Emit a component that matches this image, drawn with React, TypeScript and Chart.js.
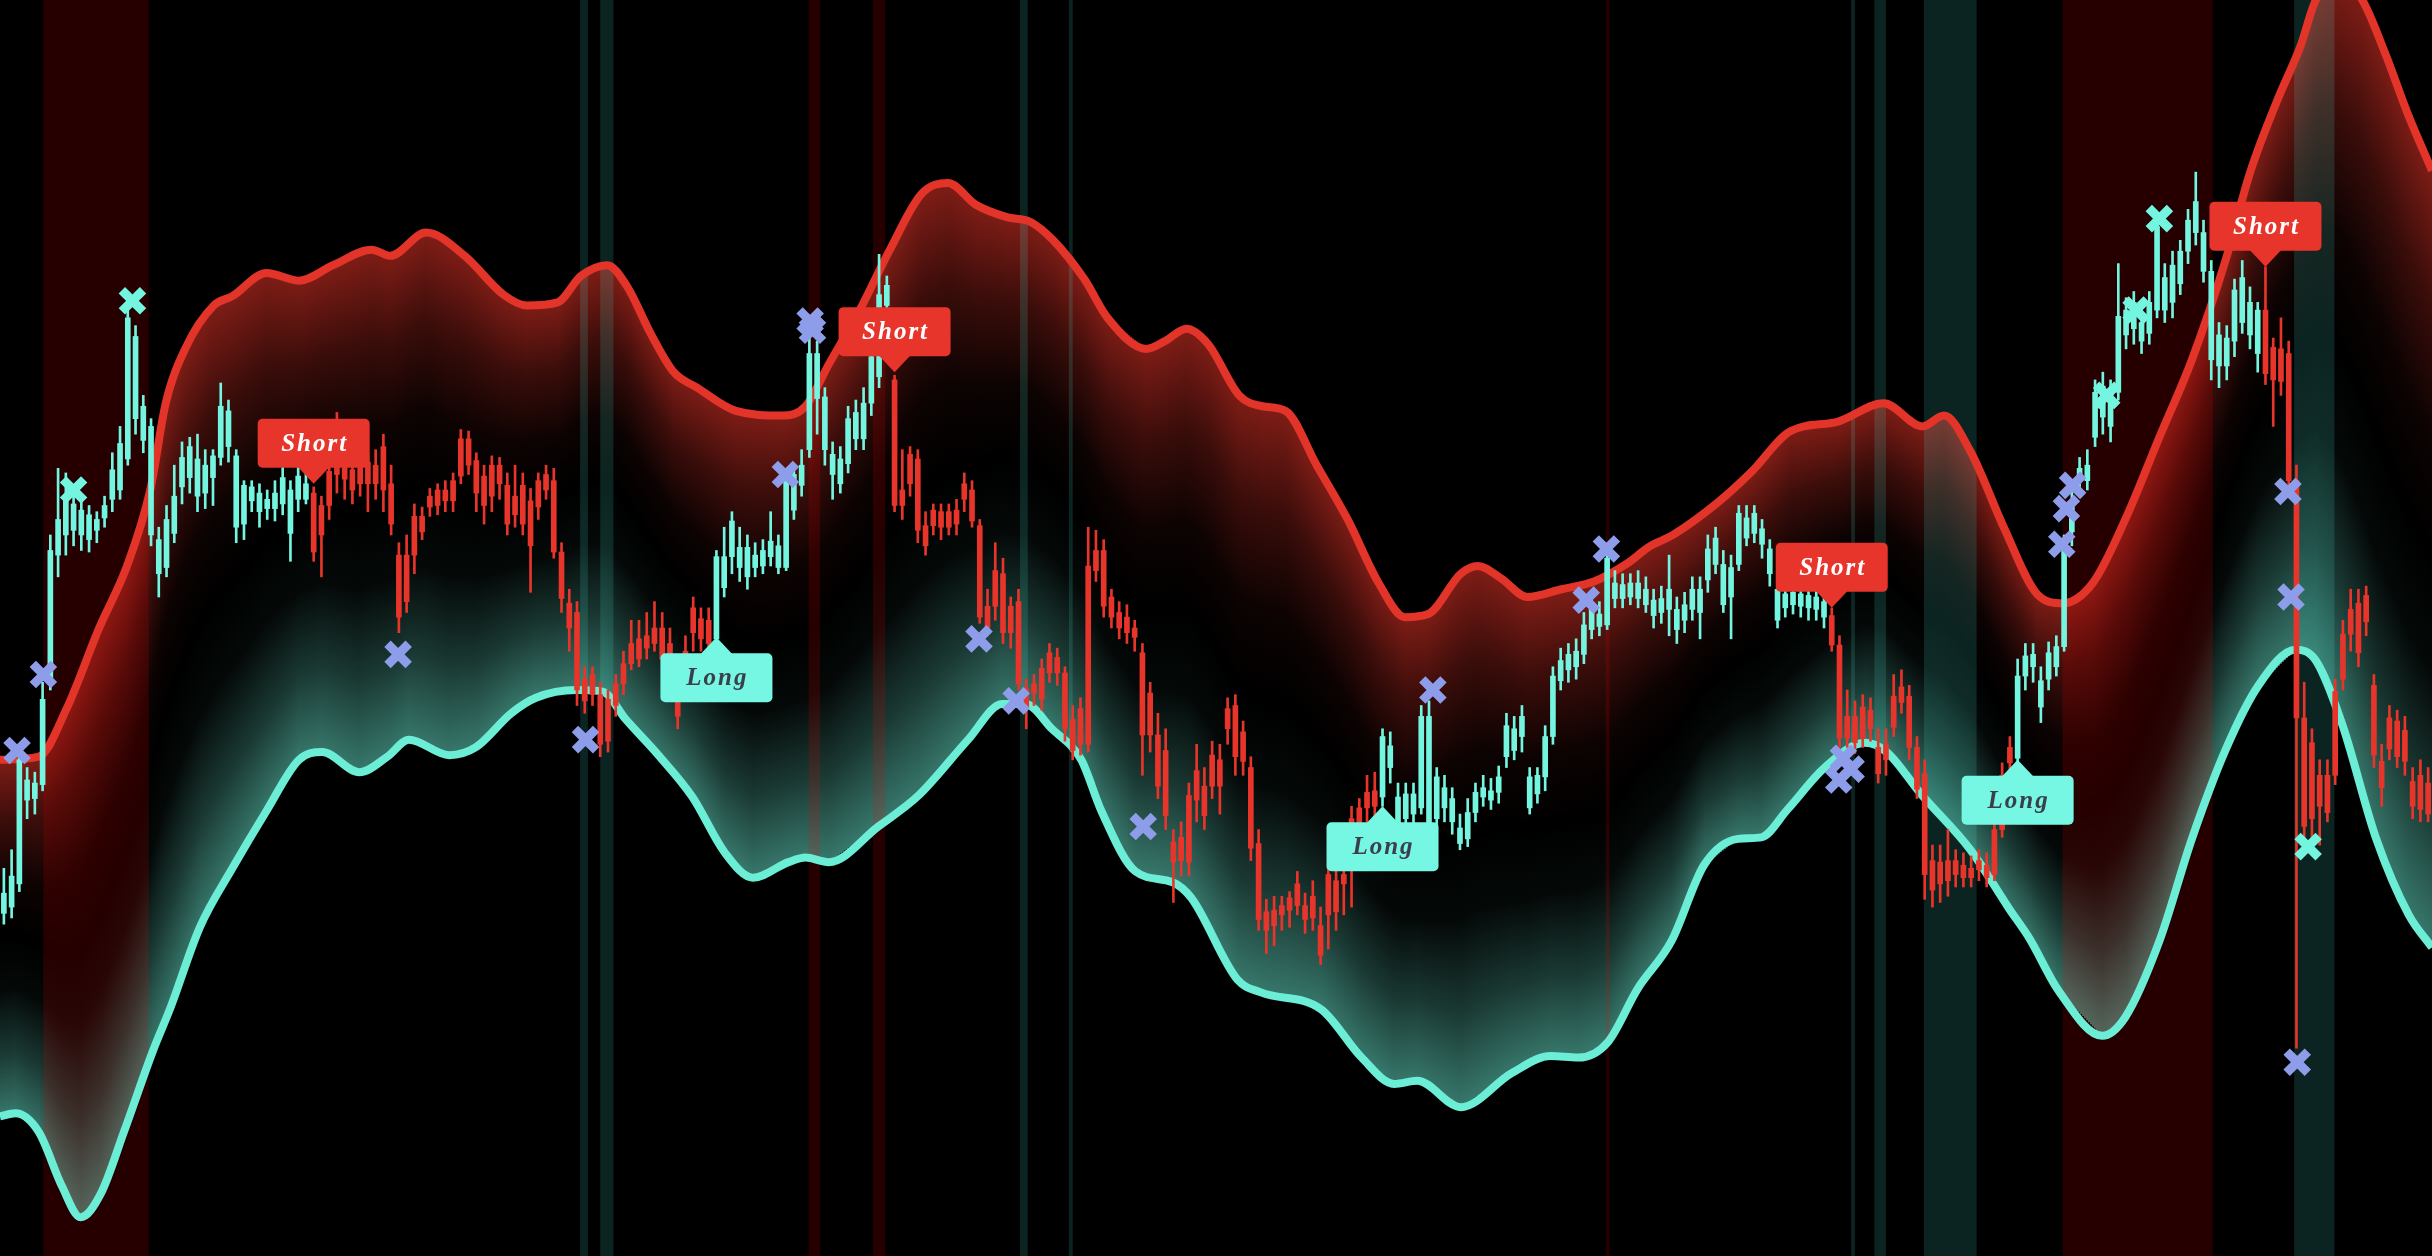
import { useEffect, useRef } from 'react';
import { Chart, registerables } from 'chart.js';

Chart.register(...registerables);

const W = 2432;
const H = 1256;

const RED = '#e8352b';
const TEAL = '#74f5e0';
const LAV = '#8e9de9';
const LINE_RED = '#e3342a';
const LINE_TEAL = '#6ceed6';

// ---- candle data (price units) ----
const opens = [
  234,245,320,307,305,359,455,475,491,485,
  481,478,475,484,507,524,605,593,548,535,
  462,475,490,515,522,514,510,516,548,545,
  516,497,496,492,488,492,502,494,503,498,
  492,484,506,534,514,507,511,512,510,522,
  498,452,452,477,477,490,494,494,500,527,
  527,513,503,510,510,497,490,497,487,500,
  504,500,454,421,415,372,375,362,359,369,
  382,395,398,400,405,405,395,370,390,418,
  411,410,451,451,474,457,457,452,455,461,
  458,500,504,510,582,582,554,517,514,540,
  544,550,580,620,626,565,494,517,514,471,
  481,480,480,481,498,494,471,419,442,440,
  419,422,366,369,379,389,386,376,346,353,
  445,455,455,425,415,412,405,389,363,336,
  326,267,270,297,313,303,323,320,353,355,
  338,315,266,222,223,226,231,240,226,232,
  213,246,242,246,282,289,299,300,335,329,
  296,298,298,348,348,309,302,295,276,286,
  299,302,300,309,342,340,348,309,310,335,
  374,384,388,390,407,417,414,450,434,433,
  434,434,430,423,424,430,417,420,430,430,
  456,463,446,444,479,476,479,469,456,430,
  427,428,427,426,425,422,413,394,348,348,
  354,352,328,330,361,367,361,328,311,255,
  254,255,255,252,250,255,252,275,310,328,
  374,387,388,371,389,393,458,483,508,510,
  557,561,558,606,610,615,602,615,664,631,
  639,648,668,680,660,635,594,592,623,631,
  615,610,610,586,585,582,500,347,331,310,
  310,364,401,417,421,426,368,319,347,345,
  339,306,310,305,
];
const closes = [
  221,225,240,294,295,304,373,452,465,468,
  465,462,468,476,488,494,514,540,526,465,
  440,444,466,496,502,490,492,502,515,522,
  470,472,487,480,482,482,485,466,488,488,
  454,465,484,504,501,494,498,498,498,494,
  472,412,422,452,467,483,484,487,487,503,
  510,492,484,490,498,472,478,472,458,483,
  494,454,424,405,365,358,362,330,332,355,
  369,382,385,392,395,385,370,348,365,402,
  398,395,398,431,451,444,438,444,445,451,
  444,444,481,497,520,553,520,504,498,511,
  527,527,550,567,613,484,484,498,468,458,
  471,470,470,472,488,474,412,405,419,402,
  402,369,353,363,359,376,376,340,326,330,
  330,442,419,412,405,402,399,336,336,303,
  284,254,255,254,294,284,303,303,340,322,
  319,263,217,210,213,220,223,226,217,218,
  194,220,222,240,256,273,289,290,296,315,
  279,282,285,289,279,282,289,280,266,269,
  286,296,294,299,322,326,335,289,298,309,
  335,371,378,380,388,404,406,407,424,424,
  425,424,420,413,415,417,404,410,417,415,
  436,446,420,425,446,463,466,459,440,410,
  418,420,419,418,417,412,394,334,334,331,
  334,340,311,320,341,357,328,301,246,236,
  240,242,246,244,244,249,244,246,275,318,
  321,374,380,354,372,380,393,467,500,500,
  528,541,535,557,594,598,590,595,610,610,
  615,627,648,660,635,578,574,574,590,602,
  594,582,569,565,564,500,347,277,282,290,
  286,310,372,401,389,409,323,302,327,322,
  319,290,288,285,
];
const highs = [
  250,262,328,315,312,370,465,508,505,492,
  488,484,480,490,518,535,612,600,555,540,
  470,484,510,525,528,530,520,520,563,552,
  520,500,500,498,494,500,510,500,510,505,
  496,490,515,544,525,514,520,518,520,530,
  510,460,465,485,483,495,498,500,505,533,
  532,518,510,516,515,505,510,505,495,505,
  510,508,460,430,422,380,380,370,365,375,
  390,410,410,415,422,415,405,378,400,425,
  418,418,455,470,480,470,465,460,462,480,
  465,505,510,520,595,590,560,525,522,548,
  552,560,588,646,632,568,520,522,520,480,
  485,485,485,488,505,500,475,430,460,450,
  425,430,372,375,385,395,392,380,355,360,
  470,468,462,430,422,420,410,395,370,350,
  340,275,280,305,330,315,332,330,360,362,
  345,322,275,230,232,232,235,248,234,242,
  225,252,250,252,290,295,310,312,340,338,
  305,305,305,355,358,315,310,302,285,295,
  305,310,308,316,350,348,355,315,315,342,
  380,392,395,398,415,425,422,455,442,440,
  440,442,438,430,432,452,425,428,438,438,
  465,470,455,452,484,484,484,475,462,438,
  432,434,432,432,430,428,418,400,365,358,
  362,360,340,340,375,378,368,335,320,265,
  265,275,262,260,258,262,260,282,318,335,
  385,395,395,380,396,400,465,500,515,520,
  565,570,565,640,618,622,610,622,670,640,
  648,655,675,699,668,642,602,600,630,642,
  625,615,638,592,605,590,510,370,340,320,
  320,372,410,430,430,432,375,330,355,352,
  348,315,320,315,
];
const lows = [
  214,218,235,282,285,300,365,438,452,458,
  455,454,460,470,480,488,510,530,518,458,
  425,438,460,485,492,480,482,484,510,512,
  460,462,480,470,475,474,478,448,480,485,
  448,438,475,492,488,485,490,480,488,480,
  465,402,415,440,462,477,478,480,480,498,
  504,480,472,480,488,465,470,465,428,475,
  488,450,415,390,355,350,355,322,325,348,
  362,378,380,385,390,378,360,340,358,390,
  390,385,398,425,440,435,430,438,440,445,
  440,442,475,490,515,530,510,488,492,505,
  520,520,542,560,595,480,475,490,460,452,
  465,462,465,465,480,470,408,400,410,395,
  392,365,340,355,352,370,368,332,320,323,
  325,435,412,405,398,395,390,310,325,295,
  275,228,245,245,280,275,295,285,330,310,
  310,255,210,195,200,210,212,220,208,210,
  188,198,210,220,225,265,280,282,290,305,
  272,272,275,285,275,275,280,272,262,264,
  280,290,288,292,315,320,325,285,292,300,
  330,365,370,372,382,398,400,404,418,418,
  420,418,415,405,408,400,395,402,410,398,
  428,440,415,398,442,458,460,450,432,405,
  412,414,412,410,410,405,390,328,328,324,
  328,332,305,310,335,350,320,295,230,225,
  228,232,238,238,238,242,238,242,270,312,
  318,365,370,344,365,374,390,458,492,494,
  522,530,525,552,585,588,582,588,605,602,
  605,620,640,652,628,565,560,565,580,595,
  585,570,562,535,555,494,134,270,265,265,
  280,304,365,390,380,400,315,290,320,315,
  310,282,280,280,
];

// ---- bands: [bar index, price] ----
const upperBand = [
  [-0.5,320],[4.5,322],[8.1,353],[12.3,405],[15.9,445],[18.9,494],[20.9,550],[23.5,586],
  [27.1,613],[29.5,619],[33.9,634],[38.1,629],[42.5,639],[47.5,649],[49.9,645],[54.5,660],
  [59.5,645],[64.5,620],[67.5,613],[71.5,615],[74.5,632],[77.9,639],[80.5,625],[83.5,595],
  [86.5,570],[89.5,560],[94.5,545],[100.5,542],[103.5,548],[106.5,575],[110.5,610],[114.5,650],
  [118.5,685],[121.9,692],[125.5,678],[129.5,670],[132.5,667],[135.5,655],[139.5,630],[142.5,605],
  [147.5,585],[149.9,590],[152.7,598],[155.5,588],[159.5,555],[162.5,548],[165.5,545],[169.5,510],
  [173.5,475],[177.5,434],[180.9,412],[183.9,414],[188.1,440],[190.3,445],[193.3,437],[196.7,425],
  [201.1,430],[205.3,435],[209.7,447],[212.3,457],[215.5,465],[221.3,486],[225.5,505],[230.7,532],
  [236.7,538],[242.7,550],[247.7,535],[250.5,542],[253.9,519],[258.3,469],[262.5,427],[265.9,421],
  [269.7,434],[273.9,475],[278.3,528],[282.5,578],[286.9,643],[289.9,697],[293.5,745],[296.5,780],
  [298.5,810],[301.5,825],[304.5,810],[307.5,775],[310.5,735],[313.5,700],
];
const lowerBand = [
  [-0.5,90],[1.5,92],[4.5,80],[7.5,45],[9.9,25],[12.5,40],[15.5,80],[19.3,133],[21.5,160],
  [25.3,212],[29.5,250],[33.9,287],[38.1,320],[41.1,325],[45.9,312],[49.5,322],[52.3,333],
  [57.5,323],[60.9,328],[65.5,350],[68.7,360],[73.9,365],[77.3,364],[80.3,346],[84.5,323],
  [88.9,296],[93.1,260],[96.7,244],[101.3,254],[103.5,257],[106.5,254],[112.9,277],[118.1,297],
  [124.5,333],[128.9,356],[131.9,356],[135.3,340],[139.1,320],[141.7,287],[146.1,248],[150.9,241],
  [153.3,231],[159.3,178],[162.3,170],[170.1,159],[175.3,128],[179.5,111],[182.5,113],[188.1,96],
  [194.7,118],[199.7,129],[203.3,128],[207.1,138],[210.9,172],[215.3,203],[219.5,252],[223.9,269],
  [226.9,270],[230.3,288],[235.1,315],[240.3,331],[243.1,325],[247.5,298],[253.9,262],[258.9,224],
  [261.5,205],[265.3,171],[270.9,142],[273.9,154],[278.3,203],[282.5,269],[286.9,327],[291.1,368],
  [295.9,391],[298.5,384],[301.9,343],[306.3,269],[310.5,220],[313.5,199],
];

// ---- markers: [bar index, price] ----
const lavenderMarks = [
  [1.7,326],[5.1,375],[50.9,388],[75.1,333],[100.9,504],[104.1,603],[104.4,597],[125.9,398],
  [130.7,358],[147.1,277],[184.5,365],[204.3,423],[206.9,456],[236.9,307],[237.5,321],[238.5,314],
  [265.7,459],[266.3,482],[267.1,497],[294.9,493],[295.3,425],[296.1,125],
];
const tealMarks = [[16.6,616],[9,494],[271.5,555],[275.3,610],[278.3,669],[297.5,264]];

// ---- signals ----
const signalBars = [40, 92, 115, 178, 236, 260, 292];
const signalTypes = ['Short', 'Long', 'Short', 'Long', 'Short', 'Long', 'Short'];
const signalValues = [498, 399, 570, 290, 418, 320, 638];

// ---- background regions: [from bar, to bar] ----
const redStripes = [[5.1,18.7],[103.9,105.4],[112.2,113.8],[206.8,207.3],[265.8,285.2]];
const tealStripes = [[74.4,75.4],[77,78.7],[131.2,132.2],[137.5,138],[238.5,239],[241.5,243],[247.9,254.7],[295.7,300.9]];

const barColors = opens.map((_, i) => {
  let dir = 'Long';
  signalBars.forEach((b, k) => { if (i >= b) dir = signalTypes[k]; });
  return dir === 'Long' ? TEAL : RED;
});

const interp = (pts: number[][], xv: number) => {
  if (xv <= pts[0][0]) return pts[0][1];
  for (let k = 1; k < pts.length; k++) {
    if (xv <= pts[k][0]) {
      const [x0, y0] = pts[k - 1];
      const [x1, y1] = pts[k];
      return y0 + ((y1 - y0) * (xv - x0)) / (x1 - x0);
    }
  }
  return pts[pts.length - 1][1];
};

const bgPlugin = {
  id: 'bandBackground',
  beforeDraw(chart: any) {
    const { ctx } = chart;
    ctx.save();
    ctx.fillStyle = '#000';
    ctx.fillRect(0, 0, chart.width, chart.height);
    ctx.restore();
  },
  beforeDatasetsDraw(chart: any) {
    const { ctx, chartArea, scales } = chart;
    const xs = scales.x;
    const ys = scales.y;
    ctx.save();
    ctx.beginPath();
    ctx.rect(chartArea.left, chartArea.top, chartArea.width, chartArea.height);
    ctx.clip();
    const step = 2;
    for (let px = chartArea.left; px < chartArea.right; px += step) {
      const xv = xs.getValueForPixel(px + step / 2);
      const u = ys.getPixelForValue(interp(upperBand, xv));
      const l = ys.getPixelForValue(interp(lowerBand, xv));
      const m = (u + l) / 2;
      let g = ctx.createLinearGradient(0, u, 0, m);
      g.addColorStop(0, 'rgba(232,52,40,0.55)');
      g.addColorStop(0.35, 'rgba(232,52,40,0.25)');
      g.addColorStop(0.7, 'rgba(232,52,40,0.05)');
      g.addColorStop(1, 'rgba(232,52,40,0)');
      ctx.fillStyle = g;
      ctx.fillRect(px, u, step, m - u);
      g = ctx.createLinearGradient(0, l, 0, m);
      g.addColorStop(0, 'rgba(110,238,214,0.5)');
      g.addColorStop(0.35, 'rgba(110,238,214,0.24)');
      g.addColorStop(0.7, 'rgba(110,238,214,0.04)');
      g.addColorStop(1, 'rgba(110,238,214,0)');
      ctx.fillStyle = g;
      ctx.fillRect(px, m, step, l - m);
    }
    const drawStripes = (list: number[][], color: string) => {
      ctx.fillStyle = color;
      list.forEach(([a, b]) => {
        const x0 = xs.getPixelForValue(a);
        const x1 = xs.getPixelForValue(b);
        ctx.fillRect(x0, chartArea.top, x1 - x0, chartArea.height);
      });
    };
    drawStripes(redStripes, 'rgba(255,0,0,0.15)');
    drawStripes(tealStripes, 'rgba(80,240,220,0.15)');
    ctx.restore();
  },
};

const BOX_W = 112;
const BOX_H = 49;
const PTR_W = 32;
const PTR_H = 16;

const labelPlugin = {
  id: 'signalLabels',
  afterDatasetsDraw(chart: any) {
    const { ctx, scales } = chart;
    ctx.save();
    signalBars.forEach((bar, k) => {
      const type = signalTypes[k];
      const px = scales.x.getPixelForValue(bar);
      const py = scales.y.getPixelForValue(signalValues[k]);
      const isShort = type === 'Short';
      const top = isShort ? py - PTR_H - BOX_H : py + PTR_H;
      const left = px - BOX_W / 2;
      ctx.fillStyle = isShort ? RED : '#76f7e3';
      ctx.beginPath();
      ctx.roundRect(left, top, BOX_W, BOX_H, 5);
      ctx.fill();
      ctx.beginPath();
      if (isShort) {
        ctx.moveTo(px - PTR_W / 2, top + BOX_H - 1);
        ctx.lineTo(px + PTR_W / 2, top + BOX_H - 1);
      } else {
        ctx.moveTo(px - PTR_W / 2, top + 1);
        ctx.lineTo(px + PTR_W / 2, top + 1);
      }
      ctx.lineTo(px, py);
      ctx.closePath();
      ctx.fill();
      ctx.fillStyle = isShort ? '#ffffff' : '#3a3f4b';
      ctx.font = 'italic bold 25px "Liberation Serif"';
      ctx.textAlign = 'center';
      ctx.textBaseline = 'middle';
      (ctx as any).letterSpacing = '2px';
      ctx.fillText(type, px + 1, top + BOX_H / 2 + 1);
    });
    ctx.restore();
  },
};

export default function App() {
  const ref = useRef<HTMLCanvasElement | null>(null);

  useEffect(() => {
    if (!ref.current) return;
    const bodyData = opens.map((o, i) => ({ x: i, y: [Math.min(o, closes[i]), Math.max(o, closes[i])] }));
    const wickData = highs.map((h, i) => ({ x: i, y: [lows[i], h] }));
    const chart = new Chart(ref.current, {
      type: 'bar',
      data: {
        datasets: [
          {
            type: 'scatter',
            data: lavenderMarks.map(([x, y]) => ({ x, y })),
            pointStyle: 'crossRot',
            pointRadius: 15,
            pointBorderWidth: 9,
            pointBorderColor: LAV,
            pointBackgroundColor: LAV,
            clip: false,
            order: 0,
          } as any,
          {
            type: 'scatter',
            data: tealMarks.map(([x, y]) => ({ x, y })),
            pointStyle: 'crossRot',
            pointRadius: 15,
            pointBorderWidth: 9,
            pointBorderColor: TEAL,
            pointBackgroundColor: TEAL,
            clip: false,
            order: 0,
          } as any,
          {
            type: 'bar',
            data: bodyData,
            backgroundColor: barColors,
            barThickness: 5,
            grouped: false,
            borderWidth: 0,
            order: 1,
          } as any,
          {
            type: 'bar',
            data: wickData,
            backgroundColor: barColors,
            barThickness: 2,
            grouped: false,
            borderWidth: 0,
            order: 2,
          } as any,
          {
            type: 'line',
            data: upperBand.map(([x, y]) => ({ x, y })),
            borderColor: LINE_RED,
            borderWidth: 8,
            pointRadius: 0,
            cubicInterpolationMode: 'monotone',
            fill: false,
            order: 3,
          } as any,
          {
            type: 'line',
            data: lowerBand.map(([x, y]) => ({ x, y })),
            borderColor: LINE_TEAL,
            borderWidth: 8,
            pointRadius: 0,
            cubicInterpolationMode: 'monotone',
            fill: false,
            order: 3,
          } as any,
        ],
      },
      options: {
        responsive: false,
        animation: false,
        devicePixelRatio: 1,
        events: [],
        layout: { padding: 0, autoPadding: false },
        plugins: {
          legend: { display: false },
          tooltip: { enabled: false },
          title: { display: false },
        },
        scales: {
          x: { type: 'linear', min: -0.5, max: 313.5, display: false, offset: false, grid: { display: false } },
          y: { type: 'linear', min: 0, max: 810, display: false, grid: { display: false } },
        },
      } as any,
      plugins: [bgPlugin, labelPlugin],
    });
    return () => chart.destroy();
  }, []);

  return (
    <div style={{ position: 'fixed', left: 0, top: 0, width: W, height: H, background: '#000' }}>
      <canvas ref={ref} width={W} height={H} style={{ display: 'block', width: W, height: H }} />
    </div>
  );
}
